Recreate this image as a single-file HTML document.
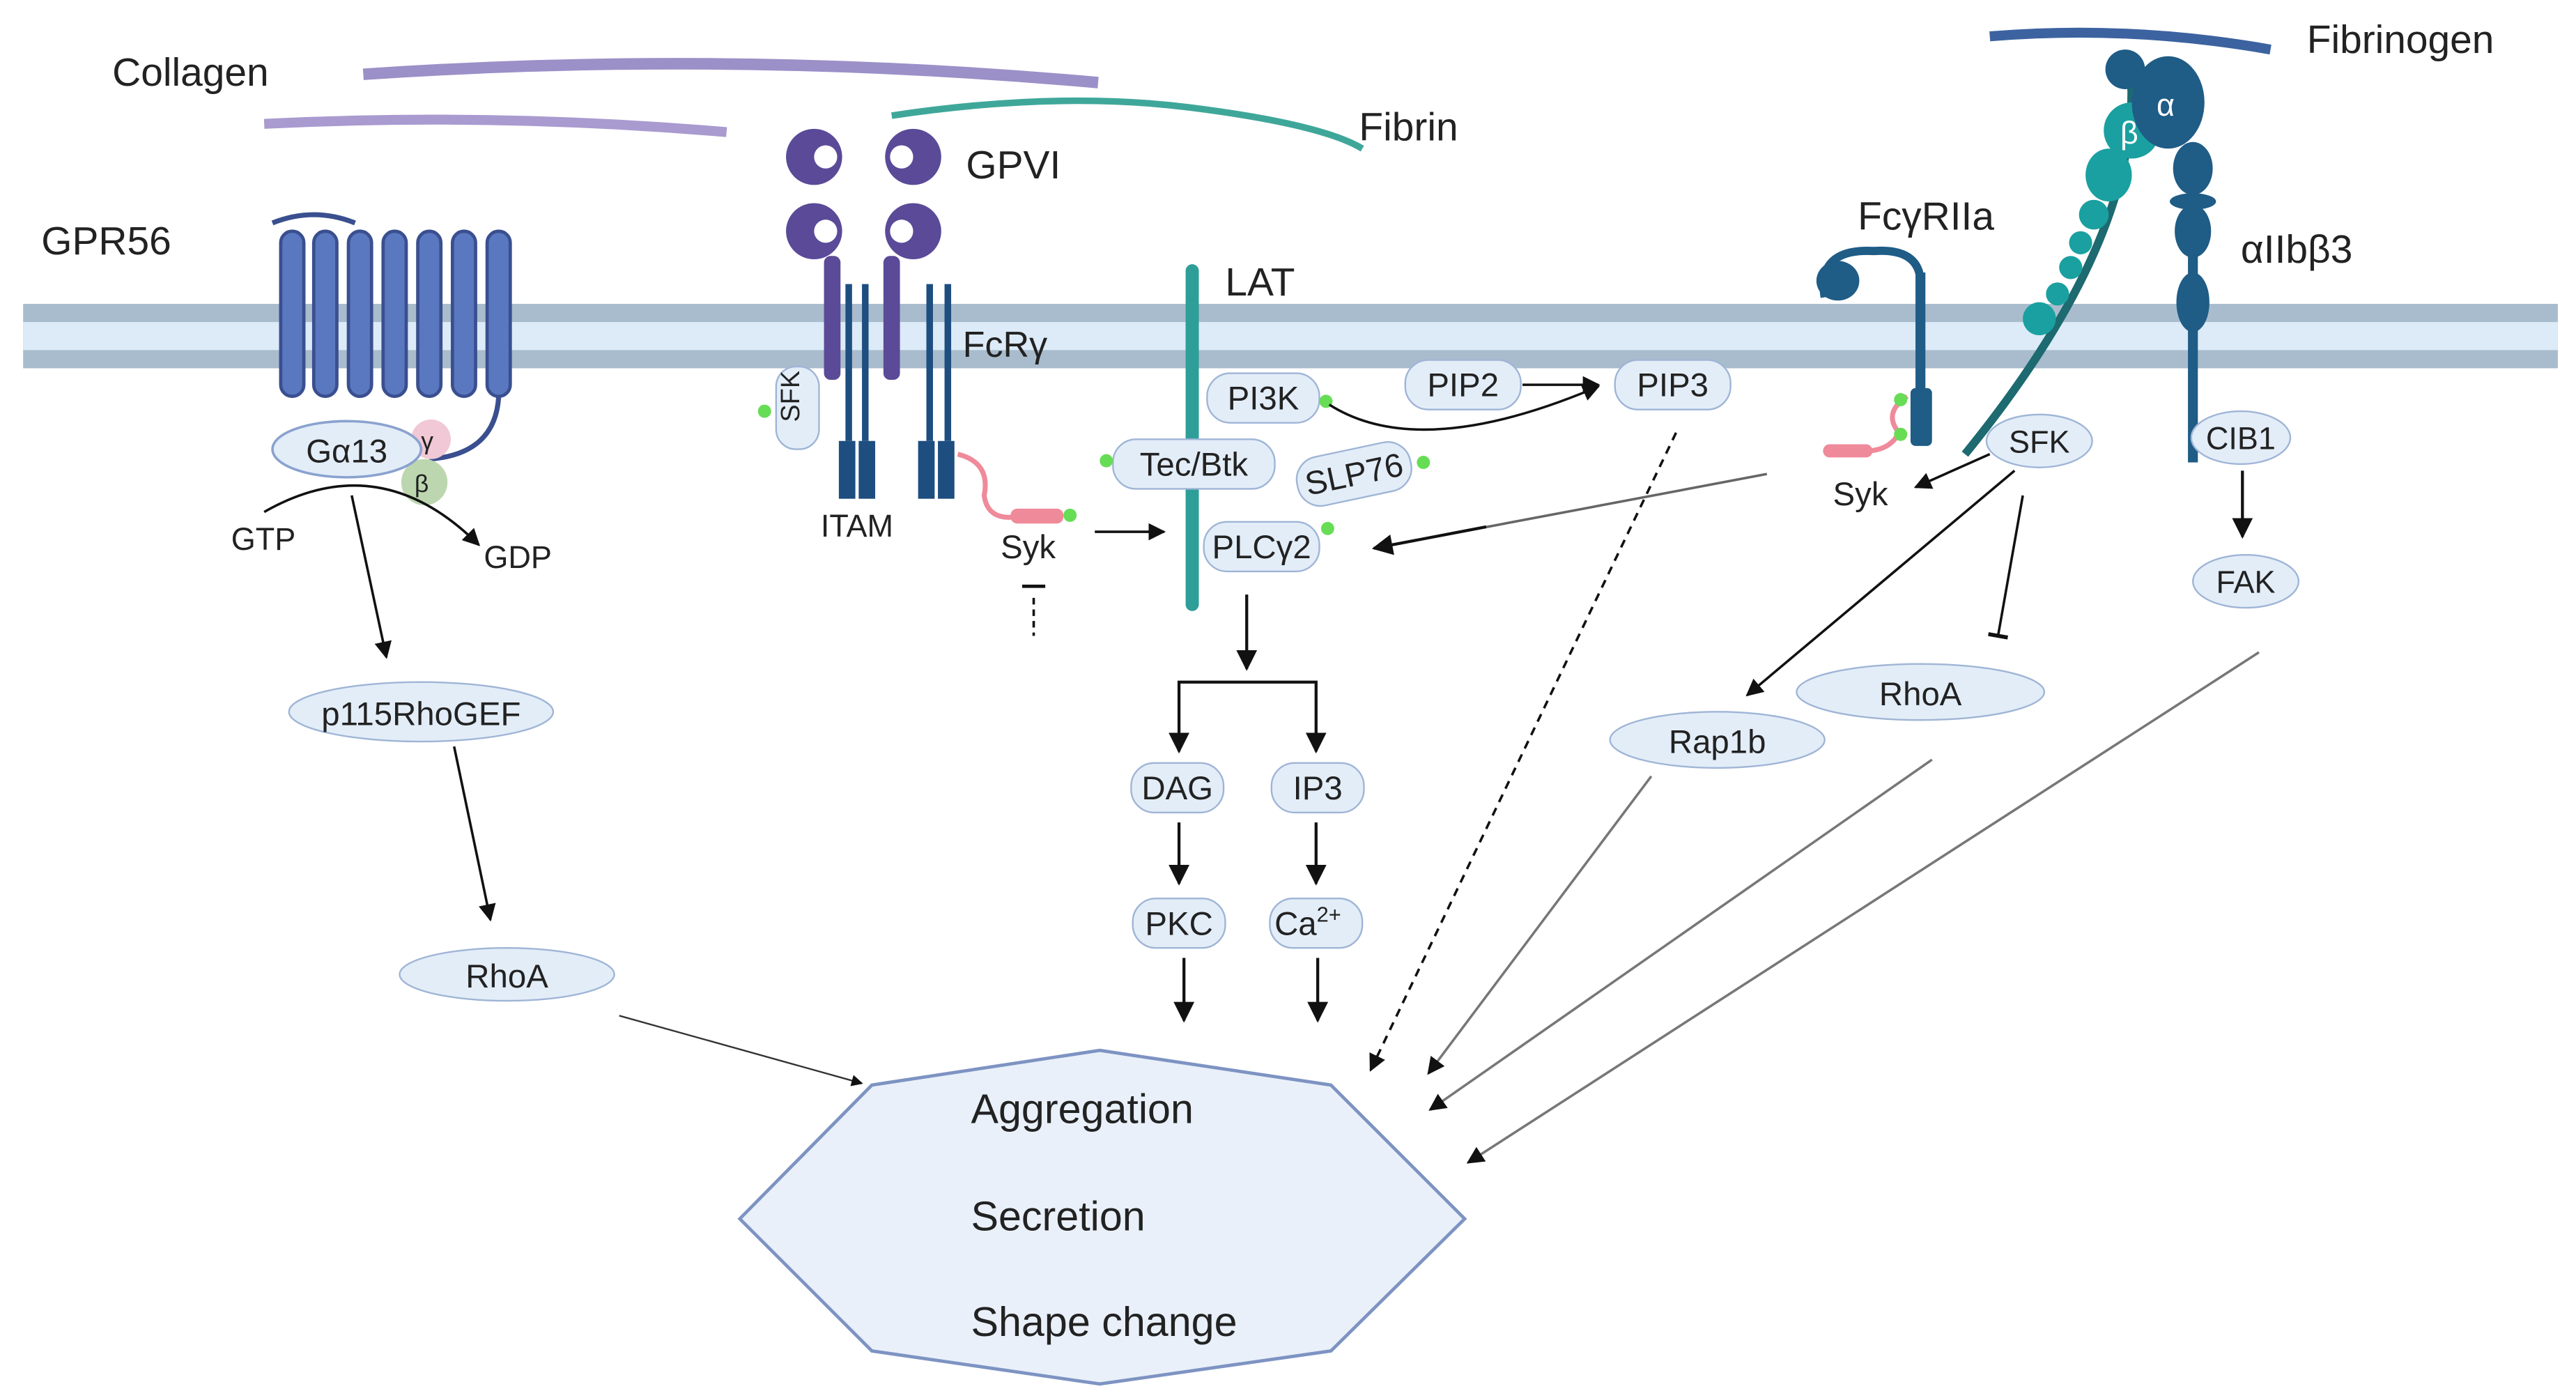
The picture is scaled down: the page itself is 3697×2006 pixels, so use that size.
<!DOCTYPE html>
<html><head><meta charset="utf-8"><style>
html,body{margin:0;padding:0;background:#fff;}
svg{display:block;}
text{font-family:"Liberation Sans",sans-serif;fill:#222;}
</style></head><body>
<svg width="3697" height="2006" viewBox="0 0 1560 846.5" preserveAspectRatio="none" xmlns="http://www.w3.org/2000/svg">
<defs>
<marker id="ar" viewBox="0 0 10 10" refX="9" refY="5" markerWidth="7" markerHeight="7" orient="auto-start-reverse"><path d="M0,0 L10,5 L0,10 z" fill="#111"/></marker>
<marker id="tb" viewBox="0 0 10 10" refX="5" refY="5" markerWidth="8" markerHeight="8" orient="auto"><path d="M5,0 L5,10" stroke="#111" stroke-width="2"/></marker>
</defs>
<!-- membrane -->
<rect x="14" y="184" width="1535" height="39" fill="#a8bccd"/>
<rect x="14" y="195" width="1535" height="17" fill="#dcebf7"/>
<!-- collagen / fibrin strands -->
<path d="M220,45 Q440,30 665,50" stroke="#9c90c8" stroke-width="7" fill="none"/>
<path d="M160,75 Q300,68 440,80" stroke="#a99ad0" stroke-width="6" fill="none"/>
<path d="M540,70 Q640,55 720,65 T825,90" stroke="#3fa79a" stroke-width="4" fill="none"/>
<path d="M1205,22 Q1290,15 1375,30" stroke="#3c63a0" stroke-width="6" fill="none"/>
<!-- labels -->
<text x="68" y="52" font-size="24">Collagen</text>
<text x="823" y="85" font-size="24">Fibrin</text>
<text x="585" y="108" font-size="24">GPVI</text>
<text x="25" y="154" font-size="24">GPR56</text>
<text x="742" y="179" font-size="24">LAT</text>
<text x="583" y="216" font-size="22">FcRγ</text>
<text x="1125" y="139" font-size="24">FcγRIIa</text>
<text x="1357" y="159" font-size="24">αIIbβ3</text>
<text x="1397" y="32" font-size="24">Fibrinogen</text>
<!-- GPR56 -->
<g stroke="#3a4f8f" stroke-width="2" fill="#5a78c0">
<path d="M165,135 Q190,125 215,135" fill="none" stroke-width="3"/>
<rect x="170" y="140" width="14" height="100" rx="7"/><rect x="190" y="140" width="14" height="100" rx="7"/>
<rect x="211" y="140" width="14" height="100" rx="7"/><rect x="232" y="140" width="14" height="100" rx="7"/>
<rect x="253" y="140" width="14" height="100" rx="7"/><rect x="274" y="140" width="14" height="100" rx="7"/>
<rect x="295" y="140" width="14" height="100" rx="7"/>
<path d="M302,240 Q300,275 260,278" fill="none" stroke-width="3"/>
</g>
<circle cx="261" cy="266" r="12" fill="#f1c8d6"/><text x="255" y="272" font-size="15">γ</text>
<circle cx="257" cy="292" r="14" fill="#bcd7b0"/><text x="251" y="298" font-size="15">β</text>
<ellipse cx="210" cy="272" rx="45" ry="17" fill="#e3edf8" stroke="#8aa2cf" stroke-width="1.5"/>
<text x="210" y="280" font-size="20" text-anchor="middle">Gα13</text>
<text x="140" y="333" font-size="19">GTP</text><text x="293" y="344" font-size="19">GDP</text>
<path d="M160,310 Q230,270 290,330" stroke="#111" stroke-width="1.5" fill="none" marker-end="url(#ar)"/>
<line x1="213" y1="300" x2="234" y2="398" stroke="#111" stroke-width="1.5" marker-end="url(#ar)"/>
<ellipse cx="255" cy="431" rx="80" ry="18" fill="#e3edf8" stroke="#9fb5d6"/>
<text x="255" y="439" font-size="20" text-anchor="middle">p115RhoGEF</text>
<line x1="275" y1="452" x2="297" y2="557" stroke="#111" stroke-width="1.5" marker-end="url(#ar)"/>
<ellipse cx="307" cy="590" rx="65" ry="16" fill="#e3edf8" stroke="#9fb5d6"/>
<text x="307" y="598" font-size="20" text-anchor="middle">RhoA</text>
<line x1="375" y1="615" x2="522" y2="656" stroke="#333" stroke-width="1" marker-end="url(#ar)"/>
<!-- GPVI -->
<g fill="#5a4a98">
<circle cx="493" cy="95" r="17"/><circle cx="493" cy="140" r="17"/>
<circle cx="553" cy="95" r="17"/><circle cx="553" cy="140" r="17"/>
<rect x="499" y="155" width="10" height="75" rx="4"/><rect x="535" y="155" width="10" height="75" rx="4"/>
</g>
<g fill="#fff"><circle cx="500" cy="95" r="7"/><circle cx="500" cy="140" r="7"/><circle cx="546" cy="95" r="7"/><circle cx="546" cy="140" r="7"/></g>
<g fill="#1e4e80">
<rect x="512" y="172" width="4" height="95"/><rect x="522" y="172" width="4" height="95"/>
<rect x="561" y="172" width="4" height="95"/><rect x="572" y="172" width="4" height="95"/>
<rect x="508" y="267" width="10" height="35"/><rect x="520" y="267" width="10" height="35"/>
<rect x="556" y="267" width="10" height="35"/><rect x="568" y="267" width="10" height="35"/>
</g>
<rect x="470" y="222" width="26" height="50" rx="12" fill="#e3edf8" stroke="#9fb5d6"/>
<text x="490" y="248" font-size="16" transform="rotate(-90 483 247)" text-anchor="middle">SFK</text>
<circle cx="463" cy="249" r="4" fill="#66dd55"/>
<text x="497" y="325" font-size="19">ITAM</text>
<path d="M580,275 Q600,280 596,300 Q598,315 615,313" stroke="#ef8a9a" stroke-width="3" fill="none"/>
<rect x="612" y="308" width="32" height="9" rx="4" fill="#ef8a9a"/>
<circle cx="648" cy="312" r="4" fill="#66dd55"/>
<text x="606" y="338" font-size="20">Syk</text>
<line x1="619" y1="355" x2="633" y2="355" stroke="#111" stroke-width="2"/>
<line x1="626" y1="362" x2="626" y2="385" stroke="#111" stroke-width="1.5" stroke-dasharray="4,3"/>
<line x1="663" y1="322" x2="705" y2="322" stroke="#111" stroke-width="1.5" marker-end="url(#ar)"/>
<!-- LAT -->
<rect x="718" y="160" width="8" height="210" rx="4" fill="#2e9e98"/>
<rect x="731" y="226" width="68" height="30" rx="14" fill="#e3edf8" stroke="#9fb5d6"/><text x="765" y="248" font-size="20" text-anchor="middle">PI3K</text>
<circle cx="803" cy="243" r="4" fill="#66dd55"/>
<rect x="674" y="266" width="98" height="30" rx="14" fill="#e3edf8" stroke="#9fb5d6"/><text x="723" y="288" font-size="20" text-anchor="middle">Tec/Btk</text>
<circle cx="670" cy="279" r="4" fill="#66dd55"/>
<g transform="rotate(-12 820 287)"><rect x="785" y="272" width="70" height="30" rx="14" fill="#e3edf8" stroke="#9fb5d6"/><text x="820" y="294" font-size="20" text-anchor="middle">SLP76</text></g>
<circle cx="862" cy="280" r="4" fill="#66dd55"/>
<rect x="729" y="316" width="70" height="30" rx="14" fill="#e3edf8" stroke="#9fb5d6"/><text x="764" y="338" font-size="20" text-anchor="middle">PLCγ2</text>
<circle cx="804" cy="320" r="4" fill="#66dd55"/>
<rect x="851" y="218" width="70" height="30" rx="14" fill="#e3edf8" stroke="#9fb5d6"/><text x="886" y="240" font-size="20" text-anchor="middle">PIP2</text>
<rect x="978" y="218" width="70" height="30" rx="14" fill="#e3edf8" stroke="#9fb5d6"/><text x="1013" y="240" font-size="20" text-anchor="middle">PIP3</text>
<path d="M805,245 Q860,280 968,234" stroke="#111" stroke-width="1.5" fill="none" marker-end="url(#ar)"/>
<line x1="922" y1="233" x2="968" y2="233" stroke="#111" stroke-width="1.5" marker-end="url(#ar)"/>
<line x1="1015" y1="262" x2="830" y2="648" stroke="#111" stroke-width="1.5" stroke-dasharray="5,4" marker-end="url(#ar)"/>
<line x1="755" y1="360" x2="755" y2="405" stroke="#111" stroke-width="1.8" marker-end="url(#ar)"/>
<path d="M714,455 V413 H797 V455" stroke="#111" stroke-width="1.8" fill="none" marker-start="url(#ar)" marker-end="url(#ar)"/>
<rect x="685" y="462" width="56" height="30" rx="14" fill="#e3edf8" stroke="#9fb5d6"/><text x="713" y="484" font-size="20" text-anchor="middle">DAG</text>
<rect x="770" y="462" width="56" height="30" rx="14" fill="#e3edf8" stroke="#9fb5d6"/><text x="798" y="484" font-size="20" text-anchor="middle">IP3</text>
<line x1="714" y1="498" x2="714" y2="535" stroke="#111" stroke-width="1.8" marker-end="url(#ar)"/>
<line x1="797" y1="498" x2="797" y2="535" stroke="#111" stroke-width="1.8" marker-end="url(#ar)"/>
<rect x="686" y="544" width="56" height="30" rx="14" fill="#e3edf8" stroke="#9fb5d6"/><text x="714" y="566" font-size="20" text-anchor="middle">PKC</text>
<rect x="769" y="544" width="56" height="30" rx="14" fill="#e3edf8" stroke="#9fb5d6"/><text x="792" y="566" font-size="20" text-anchor="middle">Ca<tspan font-size="13" dy="-8">2+</tspan></text>
<line x1="717" y1="580" x2="717" y2="618" stroke="#111" stroke-width="1.8" marker-end="url(#ar)"/>
<line x1="798" y1="580" x2="798" y2="618" stroke="#111" stroke-width="1.8" marker-end="url(#ar)"/>
<!-- FcgRIIa -->
<path d="M1105,180 Q1100,150 1135,152 Q1165,150 1163,175" stroke="#1f5c86" stroke-width="5" fill="none"/>
<ellipse cx="1113" cy="170" rx="13" ry="12" fill="#1f5c86"/>
<rect x="1160" y="165" width="6" height="75" fill="#1f5c86"/>
<rect x="1157" y="235" width="13" height="35" rx="3" fill="#1f5c86"/>
<path d="M1155,240 Q1140,250 1150,262 Q1145,272 1132,273" stroke="#ef8a9a" stroke-width="3" fill="none"/>
<rect x="1104" y="269" width="30" height="8" rx="4" fill="#ef8a9a"/>
<circle cx="1151" cy="242" r="4" fill="#66dd55"/><circle cx="1151" cy="263" r="4" fill="#66dd55"/>
<text x="1110" y="306" font-size="20">Syk</text>
<line x1="1070" y1="287" x2="832" y2="332" stroke="#666" stroke-width="1.5"/>
<line x1="900" y1="319" x2="832" y2="332" stroke="#111" stroke-width="1.8" marker-end="url(#ar)"/>
<!-- integrin -->
<path d="M1290,40 Q1300,140 1190,275" stroke="#1d6a70" stroke-width="5" fill="none"/>
<g fill="#1aa0a0"><ellipse cx="1277" cy="106" rx="14" ry="16"/><ellipse cx="1268" cy="130" rx="9" ry="9"/><ellipse cx="1260" cy="147" rx="7" ry="7"/><ellipse cx="1254" cy="162" rx="7" ry="7"/><ellipse cx="1246" cy="178" rx="7" ry="7"/><ellipse cx="1235" cy="193" rx="10" ry="10"/></g>
<circle cx="1291" cy="79" r="17" fill="#1aa0a0"/><text x="1284" y="87" font-size="19" fill="#fff" style="fill:#fff">β</text>
<ellipse cx="1313" cy="62" rx="22" ry="28" fill="#1f5c86"/><text x="1306" y="70" font-size="19" style="fill:#fff">α</text>
<circle cx="1287" cy="42" r="12" fill="#1f5c86"/>
<rect x="1325" y="90" width="6" height="190" fill="#1f5c86"/>
<ellipse cx="1328" cy="102" rx="12" ry="16" fill="#1f5c86"/>
<ellipse cx="1328" cy="122" rx="14" ry="5" fill="#1f5c86"/>
<ellipse cx="1328" cy="140" rx="11" ry="16" fill="#1f5c86"/>
<ellipse cx="1328" cy="183" rx="10" ry="18" fill="#1f5c86"/>
<ellipse cx="1235" cy="267" rx="32" ry="16" fill="#e3edf8" stroke="#9fb5d6"/><text x="1235" y="274" font-size="19" text-anchor="middle">SFK</text>
<ellipse cx="1357" cy="265" rx="30" ry="16" fill="#e3edf8" stroke="#9fb5d6"/><text x="1357" y="272" font-size="19" text-anchor="middle">CIB1</text>
<line x1="1205" y1="275" x2="1160" y2="295" stroke="#111" stroke-width="1.5" marker-end="url(#ar)"/>
<line x1="1358" y1="285" x2="1358" y2="325" stroke="#111" stroke-width="1.8" marker-end="url(#ar)"/>
<ellipse cx="1360" cy="352" rx="32" ry="16" fill="#e3edf8" stroke="#9fb5d6"/><text x="1360" y="359" font-size="19" text-anchor="middle">FAK</text>
<line x1="1220" y1="285" x2="1058" y2="421" stroke="#111" stroke-width="1.5" marker-end="url(#ar)"/>
<line x1="1225" y1="300" x2="1210" y2="385" stroke="#111" stroke-width="1.5" marker-end="url(#tb)"/>
<ellipse cx="1040" cy="448" rx="65" ry="17" fill="#e3edf8" stroke="#9fb5d6"/><text x="1040" y="456" font-size="20" text-anchor="middle">Rap1b</text>
<ellipse cx="1163" cy="419" rx="75" ry="17" fill="#e3edf8" stroke="#9fb5d6"/><text x="1163" y="427" font-size="20" text-anchor="middle">RhoA</text>
<line x1="1000" y1="470" x2="865" y2="650" stroke="#777" stroke-width="1.5" marker-end="url(#ar)"/>
<line x1="1170" y1="460" x2="866" y2="672" stroke="#777" stroke-width="1.5" marker-end="url(#ar)"/>
<line x1="1368" y1="395" x2="889" y2="704" stroke="#777" stroke-width="1.5" marker-end="url(#ar)"/>
<!-- octagon -->
<polygon points="448,738 528,657 666,636 806,657 887,738 806,818 666,838 528,818" fill="#e9f0f9" stroke="#7d93c2" stroke-width="2"/>
<text x="588" y="680" font-size="25">Aggregation</text>
<text x="588" y="745" font-size="25">Secretion</text>
<text x="588" y="809" font-size="25">Shape change</text>
</svg>
</body></html>
